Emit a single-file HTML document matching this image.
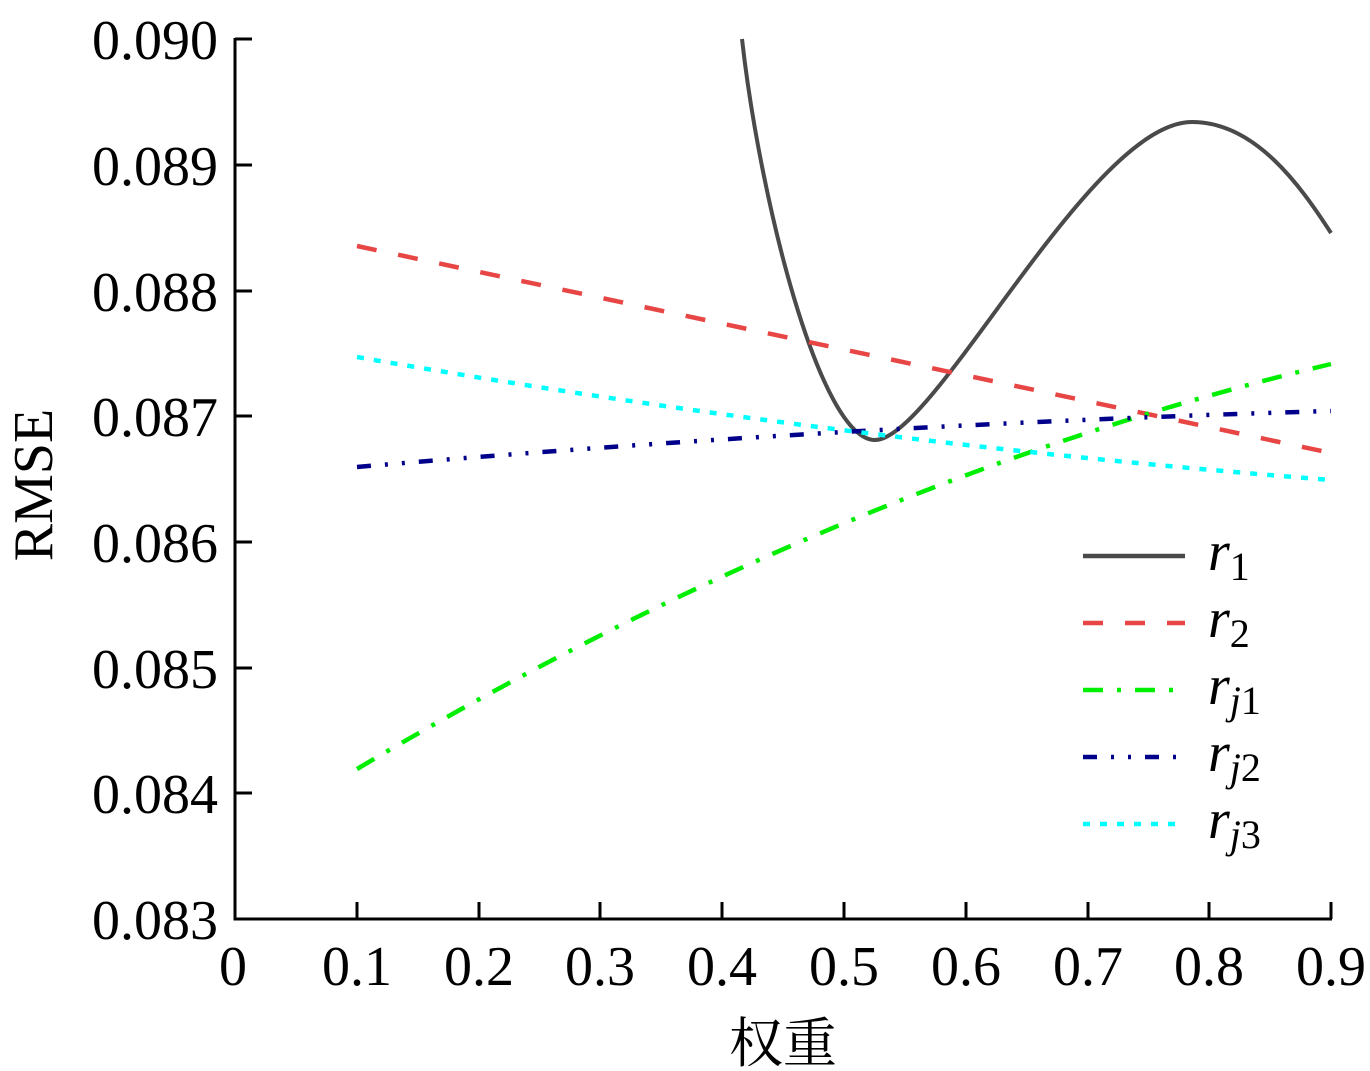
<!DOCTYPE html>
<html><head><meta charset="utf-8"><style>
html,body{margin:0;padding:0;background:#fff;}
svg{display:block;}
.t{font-family:"Liberation Serif","Times New Roman",serif;fill:#000;}
.c{font-family:"Noto Serif CJK SC","Noto Sans CJK SC",serif;fill:#000;}
</style></head><body>
<svg width="1370" height="1071" viewBox="0 0 1370 1071" xmlns="http://www.w3.org/2000/svg">
<g stroke="#000" stroke-width="3" fill="none">
<path d="M235,38 V919 H1332"/>
<path d="M235,39 H252 M235,165 H252 M235,291 H252 M235,416 H252 M235,542 H252 M235,668 H252 M235,793 H252"/>
<path d="M357,919 V902 M479,919 V902 M600,919 V902 M722,919 V902 M844,919 V902 M966,919 V902 M1088,919 V902 M1209,919 V902 M1331,919 V902"/>
</g>
<g class="t" font-size="56" text-anchor="end" style="font-family:'Liberation Serif',serif">
<text x="218" y="59">0.090</text>
<text x="218" y="185">0.089</text>
<text x="218" y="311">0.088</text>
<text x="218" y="436">0.087</text>
<text x="218" y="562">0.086</text>
<text x="218" y="688">0.085</text>
<text x="218" y="813">0.084</text>
<text x="218" y="939">0.083</text>
</g>
<g class="t" font-size="56" text-anchor="middle" style="font-family:'Liberation Serif',serif">
<text x="233" y="985">0</text>
<text x="357" y="985">0.1</text>
<text x="479" y="985">0.2</text>
<text x="600" y="985">0.3</text>
<text x="722" y="985">0.4</text>
<text x="844" y="985">0.5</text>
<text x="966" y="985">0.6</text>
<text x="1088" y="985">0.7</text>
<text x="1209" y="985">0.8</text>
<text x="1331" y="985">0.9</text>
</g>
<text class="c" x="783" y="1062" font-size="54" text-anchor="middle">权重</text>
<text class="t" style="font-family:'Liberation Serif',serif" transform="translate(52,485) rotate(-90)" font-size="56" text-anchor="middle">RMSE</text>
<g fill="none" stroke-width="4.5">
<path d="M742,39 C760,200 820,440 875,440 C935,440 1090,122 1192,122 C1255,122 1300,185 1331,233" stroke="#4a4a4a" stroke-width="4"/>
<path d="M357,246 L1331,453" stroke="#e84545" stroke-dasharray="20,22"/>
<path d="M357,769 Q844,480 1331,364" stroke="#00ee00" stroke-dasharray="20,14,4,14"/>
<path d="M357,467 Q844,425 1331,411" stroke="#00008b" stroke-dasharray="14,14,3,14,3,14"/>
<path d="M357,357 Q844,442 1331,480" stroke="#00ffff" stroke-dasharray="7,10"/>
</g>
<g fill="none" stroke-width="4.5">
<path d="M1083,556 H1185" stroke="#4a4a4a"/>
<path d="M1083,623 H1185" stroke="#e84545" stroke-dasharray="20,22"/>
<path d="M1083,690 H1185" stroke="#00ee00" stroke-dasharray="20,14,4,14"/>
<path d="M1083,757 H1185" stroke="#00008b" stroke-dasharray="14,14,3,14,3,14"/>
<path d="M1083,824 H1185" stroke="#00ffff" stroke-dasharray="7,10"/>
</g>
<g class="t" font-size="56" style="font-family:'Liberation Serif',serif">
<text x="1208" y="570" font-style="italic">r<tspan font-style="normal" font-size="40" dy="10">1</tspan></text>
<text x="1208" y="637" font-style="italic">r<tspan font-style="normal" font-size="40" dy="10">2</tspan></text>
<text x="1208" y="704" font-style="italic">r<tspan font-size="40" dy="10">j</tspan><tspan font-style="normal" font-size="40">1</tspan></text>
<text x="1208" y="771" font-style="italic">r<tspan font-size="40" dy="10">j</tspan><tspan font-style="normal" font-size="40">2</tspan></text>
<text x="1208" y="838" font-style="italic">r<tspan font-size="40" dy="10">j</tspan><tspan font-style="normal" font-size="40">3</tspan></text>
</g>
</svg>
</body></html>
